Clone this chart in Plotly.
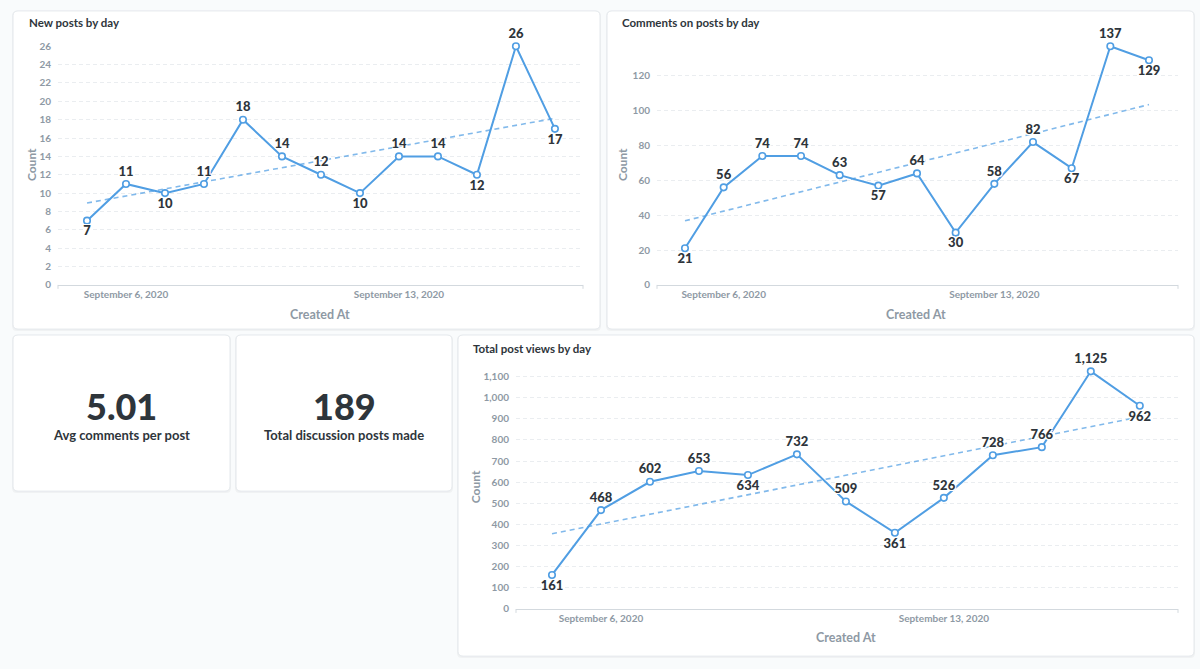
import plotly.graph_objects as go
import pandas as pd
import numpy as np

# ---------------- data ----------------
dates = pd.date_range("2020-09-05", periods=13, freq="D")
new_posts = [7, 11, 10, 11, 18, 14, 12, 10, 14, 14, 12, 26, 17]
comments = [21, 56, 74, 74, 63, 57, 64, 30, 58, 82, 67, 137, 129]
views = [161, 468, 602, 653, 634, 732, 509, 361, 526, 728, 766, 1125, 962]
x_tick_vals = ["2020-09-06", "2020-09-13"]
x_tick_text = ["September 6, 2020", "September 13, 2020"]
chart_titles = ["New posts by day", "Comments on posts by day", "Total post views by day"]
avg_comments_value = "5.01"
avg_comments_label = "Avg comments per post"
total_posts_value = "189"
total_posts_label = "Total discussion posts made"

# ---------------- style ----------------
W, H = 1200, 669
BLUE = "#509ee3"
TREND = "rgba(80,158,227,0.72)"
DARK = "#2e353b"
GREY = "#8e99a4"
FONT = "Lato"

def px(x):
    return x / W

def py(y):
    return 1 - y / H

fig = go.Figure()
shapes = []
annotations = []

# cards
cards = [(13, 5, 600, 329), (607, 5, 1194, 329), (13, 335, 230, 494),
         (236, 335, 452, 494), (458, 335, 1194, 662)]

def rounded(x0, y0, x1, y1, r=5):
    X0, X1 = px(x0), px(x1)
    Y0, Y1 = py(y0), py(y1)
    rx, ry = r / W, r / H
    return (f"M {X0+rx},{Y0} L {X1-rx},{Y0} Q {X1},{Y0} {X1},{Y0-ry} "
            f"L {X1},{Y1+ry} Q {X1},{Y1} {X1-rx},{Y1} L {X0+rx},{Y1} "
            f"Q {X0},{Y1} {X0},{Y1+ry} L {X0},{Y0-ry} Q {X0},{Y0} {X0+rx},{Y0} Z")

for (x0, y0, x1, y1) in cards:
    shapes.append(dict(type="path", xref="paper", yref="paper",
                       path=rounded(x0 - 1, y0, x1 + 1, y1 + 2),
                       fillcolor="rgba(0,0,0,0.035)", line=dict(width=0), layer="below"))
    shapes.append(dict(type="path", xref="paper", yref="paper",
                       path=rounded(x0, y0, x1, y1),
                       fillcolor="white", line=dict(color="#e4e8ec", width=1), layer="below"))

charts = [
    dict(values=new_posts, dom_x=(58, 583), dom_y=(41, 284), pad=(0.744, 0.72),
         dtick=2, fmt="", title_pos=(27, 17), count_pos=(31, 162), created_pos=(320, 314)),
    dict(values=comments, dom_x=(657, 1178), dom_y=(41, 284), pad=(0.724, 0.75),
         dtick=20, fmt="", title_pos=(620, 17), count_pos=(622, 162), created_pos=(916, 314)),
    dict(values=views, dom_x=(516, 1178), dom_y=(372, 614), pad=(0.735, 0.78),
         dtick=100, fmt=",", title_pos=(471, 349), count_pos=(475, 490), created_pos=(846, 643)),
]

idx = np.arange(len(dates))
for k, c in enumerate(charts):
    n = "" if k == 0 else str(k + 1)
    xa, ya = "x" + n, "y" + n
    vals = c["values"]
    # label positions: below local minima, above otherwise
    pos = []
    for i, v in enumerate(vals):
        left = vals[i - 1] if i > 0 else None
        right = vals[i + 1] if i < len(vals) - 1 else None
        is_min = (left is None or v <= left) and (right is None or v <= right)
        pos.append("bottom center" if is_min else "top center")
    labels = [f"{v:,}" for v in vals]

    slope, intercept = np.polyfit(idx, np.array(vals, dtype=float), 1)
    trend = slope * idx + intercept
    fig.add_trace(go.Scatter(x=dates, y=trend, mode="lines", xaxis=xa, yaxis=ya,
                             line=dict(color=TREND, width=1.6, dash="5px,4px"),
                             hoverinfo="skip", showlegend=False))
    fig.add_trace(go.Scatter(x=dates, y=vals, mode="lines+markers+text", xaxis=xa, yaxis=ya,
                             text=labels, textposition=pos, cliponaxis=False,
                             textfont=dict(family=FONT, size=13, color=DARK, weight=900,
                                           shadow="1px 1px 0 #fff, -1px -1px 0 #fff, 1px -1px 0 #fff, -1px 1px 0 #fff"),
                             line=dict(color=BLUE, width=2),
                             marker=dict(size=6.5, color="white", line=dict(color=BLUE, width=1.6)),
                             showlegend=False))

    x0 = dates[0] - pd.Timedelta(days=c["pad"][0])
    x1 = dates[-1] + pd.Timedelta(days=c["pad"][1])
    ymax = max(vals)
    fig.layout["xaxis" + n] = dict(
        domain=[px(c["dom_x"][0]), px(c["dom_x"][1])], anchor=ya, type="date",
        range=[x0.isoformat(), x1.isoformat()], tickvals=x_tick_vals, ticktext=x_tick_text,
        showgrid=False, zeroline=False, showline=True, linecolor="#d3d9de", linewidth=1,
        tickfont=dict(family=FONT, size=10, color=GREY, weight="bold"), ticks="", fixedrange=True)
    fig.layout["yaxis" + n] = dict(
        domain=[py(c["dom_y"][1]), py(c["dom_y"][0])], anchor=xa,
        range=[0, ymax], dtick=c["dtick"], tick0=0, tickformat=c["fmt"],
        showgrid=True, gridcolor="#eaedf0", griddash="4px,3px", gridwidth=1,
        zeroline=False, showline=False, ticks="", ticklabelstandoff=6,
        tickfont=dict(family=FONT, size=10, color=GREY, weight="bold"), fixedrange=True)

    # end ticks of the x domain line
    for xe in c["dom_x"]:
        shapes.append(dict(type="line", xref="paper", yref="paper",
                           x0=px(xe), x1=px(xe), y0=py(c["dom_y"][1]), y1=py(c["dom_y"][1] + 4),
                           line=dict(color="#d3d9de", width=1)))

    tx, ty = c["title_pos"]
    annotations.append(dict(text=chart_titles[k], x=px(tx), y=py(ty), xref="paper", yref="paper",
                            xanchor="left", yanchor="middle", showarrow=False,
                            font=dict(family=FONT, size=11.5, color=DARK, weight="bold")))
    cx, cy = c["count_pos"]
    annotations.append(dict(text="Count", x=px(cx), y=py(cy), xref="paper", yref="paper",
                            xanchor="center", yanchor="middle", showarrow=False, textangle=-90,
                            font=dict(family=FONT, size=12, color=GREY, weight="bold")))
    ax_, ay_ = c["created_pos"]
    annotations.append(dict(text="Created At", x=px(ax_), y=py(ay_), xref="paper", yref="paper",
                            xanchor="center", yanchor="middle", showarrow=False,
                            font=dict(family=FONT, size=12.5, color=GREY, weight="bold")))

# scalar cards
for (cx, value, label) in [(121.5, avg_comments_value, avg_comments_label),
                           (344, total_posts_value, total_posts_label)]:
    annotations.append(dict(text=value, x=px(cx), y=py(407), xref="paper", yref="paper",
                            xanchor="center", yanchor="middle", showarrow=False,
                            font=dict(family=FONT, size=36, color=DARK, weight=900)))
    annotations.append(dict(text=label, x=px(cx), y=py(437), xref="paper", yref="paper",
                            xanchor="center", yanchor="middle", showarrow=False,
                            font=dict(family=FONT, size=13, color=DARK, weight="bold")))

fig.update_layout(width=W, height=H, margin=dict(l=0, r=0, t=0, b=0),
                  paper_bgcolor="#f9fbfc", plot_bgcolor="rgba(0,0,0,0)",
                  shapes=shapes, annotations=annotations, showlegend=False,
                  font=dict(family=FONT))
fig.write_html("out.html")
